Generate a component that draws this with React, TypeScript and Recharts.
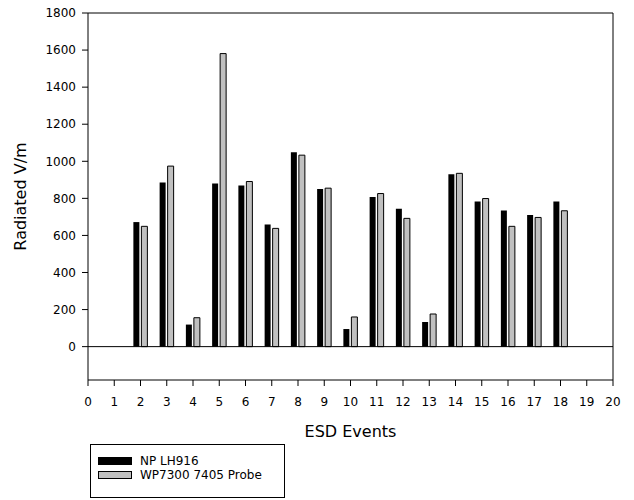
import { BarChart, Bar, XAxis, YAxis, ReferenceLine, Legend } from "recharts";

const events = [2, 3, 4, 5, 6, 7, 8, 9, 10, 11, 12, 13, 14, 15, 16, 17, 18];
const npLH916 = [672, 886, 119, 880, 870, 659, 1049, 850, 95, 807, 744, 133, 930, 783, 735, 710, 783];
const wp7300 = [649, 974, 156, 1581, 891, 638, 1033, 855, 160, 826, 692, 176, 935, 799, 649, 697, 733];
const xTicks = [0, 1, 2, 3, 4, 5, 6, 7, 8, 9, 10, 11, 12, 13, 14, 15, 16, 17, 18, 19, 20];
const yTicks = [0, 200, 400, 600, 800, 1000, 1200, 1400, 1600, 1800];

const data = events.map((event, i) => ({ event, np: npLH916[i], wp: wp7300[i] }));

const font = "'DejaVu Sans', sans-serif";
const tickStyle = { fontFamily: font, fontSize: 12, fill: "#000" };

// legend box drawn by hand so it looks like the boxed key under the plot
function LegendBox({ payload }: any) {
  return (
    <div
      style={{
        border: "1px solid #000",
        width: 195,
        height: 54,
        boxSizing: "border-box",
        background: "#fff",
        paddingTop: 9,
        paddingLeft: 7,
        fontFamily: font,
        fontSize: 12,
        lineHeight: "14px",
        color: "#000",
      }}
    >
      {(payload || []).map((entry: any) => (
        <div key={entry.value} style={{ display: "flex", alignItems: "center", height: 14 }}>
          <span
            style={{
              display: "inline-block",
              width: 34,
              height: 8,
              boxSizing: "border-box",
              background: entry.color,
              border: "1px solid #000",
              marginRight: 8,
            }}
          />
          <span>{entry.value}</span>
        </div>
      ))}
    </div>
  );
}

export default function App() {
  return (
    <div style={{ position: "absolute", left: 0, top: 0, background: "#fff" }}>
      <BarChart
        width={634}
        height={500}
        data={data}
        margin={{ top: 13, right: 21, left: 0, bottom: 36 }}
        barSize={6}
        barGap={2}
      >
        <XAxis
          dataKey="event"
          type="number"
          domain={[0, 20]}
          ticks={xTicks}
          interval={0}
          height={30}
          tickSize={6}
          tickMargin={11}
          tick={tickStyle}
          axisLine={{ stroke: "#000" }}
          tickLine={{ stroke: "#000" }}
          label={{
            value: "ESD Events",
            position: "bottom",
            offset: 16,
            style: { fontFamily: font, fontSize: 16, fill: "#000" },
          }}
        />
        <YAxis
          type="number"
          domain={[-180, 1800]}
          ticks={yTicks}
          interval={0}
          width={88}
          tickSize={6}
          tickMargin={6}
          tick={tickStyle}
          axisLine={{ stroke: "#000" }}
          tickLine={{ stroke: "#000" }}
          label={{
            value: "Radiated V/m",
            angle: -90,
            position: "insideLeft",
            offset: 20,
            style: { fontFamily: font, fontSize: 16, fill: "#000", textAnchor: "middle" },
          }}
        />
        <ReferenceLine y={0} stroke="#000" ifOverflow="visible" />
        <ReferenceLine y={1800} stroke="#000" ifOverflow="visible" />
        <ReferenceLine x={20} stroke="#000" ifOverflow="visible" />
        <Bar dataKey="np" name="NP LH916" fill="#000" isAnimationActive={false} />
        <Bar
          dataKey="wp"
          name="WP7300 7405 Probe"
          fill="#c0c0c0"
          stroke="#000"
          strokeWidth={1}
          isAnimationActive={false}
        />
        <Legend
          layout="vertical"
          align="center"
          verticalAlign="bottom"
          width={195}
          height={54}
          wrapperStyle={{ left: 90, top: 444 }}
          content={<LegendBox />}
        />
      </BarChart>
    </div>
  );
}
